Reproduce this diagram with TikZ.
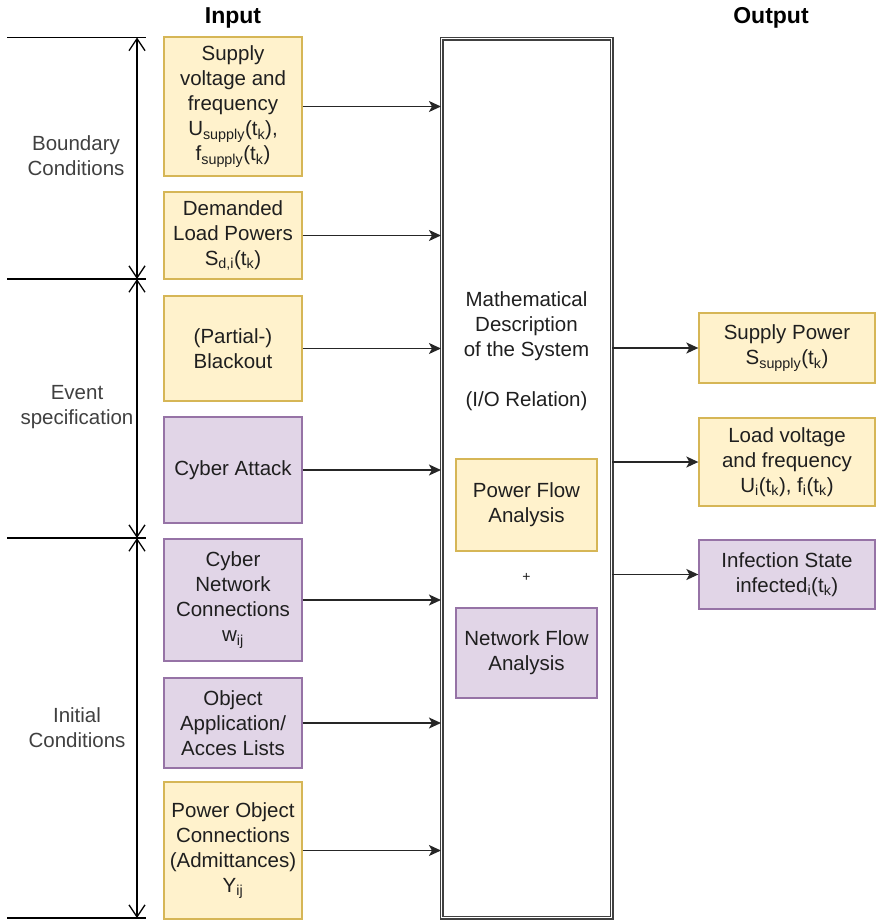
\documentclass[tikz,border=0pt]{standalone}
\usepackage{fontspec}
\setmainfont{Liberation Sans}
\usetikzlibrary{arrows.meta}
\definecolor{yfill}{HTML}{FFF2CC}
\definecolor{ydraw}{HTML}{D6B656}
\definecolor{pfill}{HTML}{E1D5E7}
\definecolor{pdraw}{HTML}{9673A6}
\begin{document}
\begin{tikzpicture}[x=1pt,y=-1pt,
  every node/.style={font=\fontsize{20.5}{25}\selectfont, text=black!88},
  ybox/.style={draw=ydraw, fill=yfill, line width=1.3pt, align=center, inner sep=1pt},
  pbox/.style={draw=pdraw, fill=pfill, line width=1.3pt, align=center, inner sep=1pt},
  lbl/.style={align=center, text=black!75},
  hdr/.style={font=\fontsize{23}{27}\selectfont\bfseries, text=black},
  arr/.style={-{Stealth[length=12pt,width=11pt,inset=3pt]}, line width=1.5pt, draw=black!85},
  dimline/.style={{Straight Barb[length=12pt,width=16pt]}-{Straight Barb[length=12pt,width=16pt]}, line width=1.3pt},
  mainbox/.style={draw=black!75, double=white, double distance=1.8pt, line width=1.1pt, minimum width=170pt, minimum height=879pt, inner sep=0pt}
]
\useasboundingbox (0,0) rectangle (876,921);

% headers
\node[hdr] (hin) at (233,18) {Input};
\node[hdr] (hout) at (771,18) {Output};

% main system box
\node[mainbox] (main) at (526.5,478) {};
\node[align=center] (maintext) at (526.5,351) {Mathematical\\Description\\of the System\\[25pt](I/O Relation)};
\node[ybox, minimum width=141pt, minimum height=92pt] (pfa) at (526.5,505) {Power Flow\\Analysis};
\node[font=\fontsize{14}{16}\selectfont] (plus) at (526.5,577) {+};
\node[pbox, minimum width=141pt, minimum height=90pt] (nfa) at (526.5,653) {Network Flow\\Analysis};

% input boxes
\node[ybox, minimum width=138pt, minimum height=139pt] (in1) at (233,106.5) {Supply\\voltage and\\frequency\\U\textsubscript{supply}(t\textsubscript{k}),\\f\textsubscript{supply}(t\textsubscript{k})};
\node[ybox, minimum width=138pt, minimum height=87pt] (in2) at (233,235.5) {Demanded\\Load Powers\\S\textsubscript{d,i}(t\textsubscript{k})};
\node[ybox, minimum width=138pt, minimum height=105pt] (in3) at (233,348.5) {(Partial-)\\Blackout};
\node[pbox, minimum width=138pt, minimum height=106pt] (in4) at (233,470) {Cyber Attack};
\node[pbox, minimum width=138pt, minimum height=122pt] (in5) at (233,600) {Cyber\\Network\\Connections\\w\textsubscript{ij}};
\node[pbox, minimum width=138pt, minimum height=90pt] (in6) at (233,723) {Object\\Application/\\Acces Lists};
\node[ybox, minimum width=138pt, minimum height=137pt] (in7) at (233,850.5) {Power Object\\Connections\\(Admittances)\\Y\textsubscript{ij}};

% output boxes
\node[ybox, minimum width=176pt, minimum height=70pt] (out1) at (787,348) {Supply Power\\S\textsubscript{supply}(t\textsubscript{k})};
\node[ybox, minimum width=176pt, minimum height=88pt] (out2) at (787,462) {Load voltage\\and frequency\\U\textsubscript{i}(t\textsubscript{k}), f\textsubscript{i}(t\textsubscript{k})};
\node[pbox, minimum width=176pt, minimum height=69pt] (out3) at (787,574.5) {Infection State\\infected\textsubscript{i}(t\textsubscript{k})};

% input arrows
\foreach \n in {in1,in2,in3,in4,in5,in6,in7}
  \draw[arr] (\n.east) -- (\n.east -| main.west);
% output arrows
\foreach \n in {out1,out2,out3}
  \draw[arr] (\n.west -| main.east) -- (\n.west);

% dimension brackets
\coordinate (t0) at (7,37.5);   \coordinate (d0) at (137,37.5);
\coordinate (t1) at (7,279);    \coordinate (d1) at (137,279);
\coordinate (t2) at (7,538);    \coordinate (d2) at (137,538);
\coordinate (t3) at (7,918);    \coordinate (d3) at (137,918);
\foreach \i in {0,1,2,3}
  \draw[line width=1.3pt] (t\i) -- ++(139,0);
\draw[dimline] (d0) -- (d1);
\draw[dimline] (d1) -- (d2);
\draw[dimline] (d2) -- (d3);

\node[lbl] (lb1) at (76,155.5) {Boundary\\Conditions};
\node[lbl] (lb2) at (77,407.5) {Event\\specification};
\node[lbl] (lb3) at (77,728) {Initial\\Conditions};
\end{tikzpicture}
\end{document}
